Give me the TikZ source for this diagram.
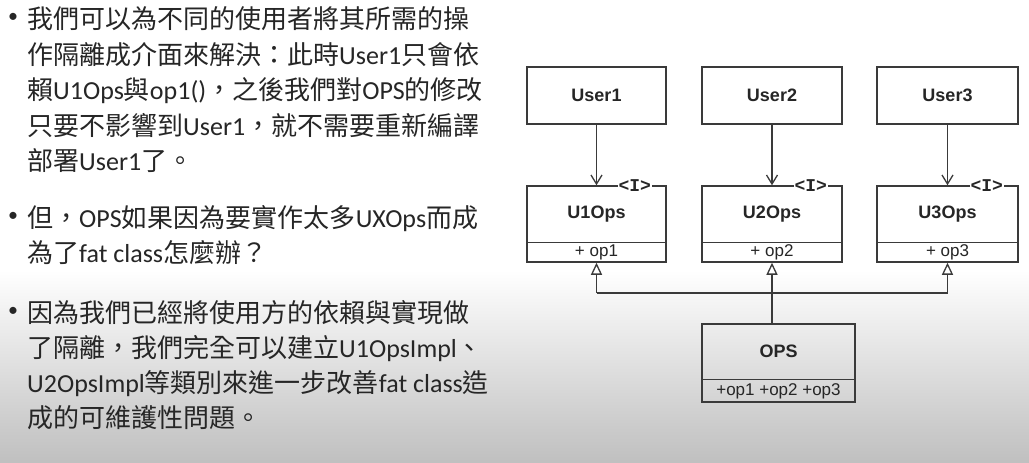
\documentclass[tikz,border=0pt]{standalone}
\usepackage{fontspec}
\setmainfont{Noto Sans CJK TC}
\newfontfamily\lat{Carlito}
\newfontfamily\umlf{Liberation Sans}
\newfontfamily\umlmono{Liberation Mono}
\usetikzlibrary{arrows.meta,calc}
\definecolor{txtc}{HTML}{262626}
\definecolor{boxc}{HTML}{3A3A3A}
\begin{document}
\begin{tikzpicture}[x=1pt,y=-1pt,
  txt/.style={anchor=base west, inner sep=0pt, text=txtc, font=\fontsize{26}{30}\selectfont},
  bul/.style={anchor=center, inner sep=0pt, text=txtc, font=\lat\fontsize{20}{24}\selectfont},
  cls/.style={draw=boxc, line width=1.5pt, minimum height=#1, inner sep=0pt},
  cname/.style={font=\umlf\bfseries\fontsize{18}{20}\selectfont, text=txtc, inner sep=0pt},
  cops/.style={font=\umlf\fontsize{17}{19}\selectfont, text=txtc, inner sep=0pt},
  stereo/.style={font=\umlmono\bfseries\fontsize{18}{20}\selectfont, text=txtc, fill=white, inner sep=1pt},
  dep/.style={draw=boxc, line width=1.3pt, -{Straight Barb[length=9pt,width=11pt,line width=1.3pt]}},
  inh/.style={draw=boxc, line width=1.3pt, -{Triangle[open,length=12pt,width=11pt,line width=1.3pt]}},
  ln/.style={draw=boxc, line width=1.3pt}]
\useasboundingbox (0,0) rectangle (1029,463);
\fill[white] (0,0) rectangle (1029,271);
\shade[top color=white, bottom color=black!25] (0,270) rectangle (1029,463);

% left text
\node[bul] (b1) at (13,18) {•};
\node[txt] (t1) at (27,28) {我們可以為不同的使用者將其所需的操};
\node[txt] (t2) at (27,64) {作隔離成介面來解決：此時{\lat User1}只會依};
\node[txt] (t3) at (27,99) {賴{\lat U1Ops}與{\lat op1()}，之後我們對{\lat OPS}的修改};
\node[txt] (t4) at (27,135) {只要不影響到{\lat User1}，就不需要重新編譯};
\node[txt] (t5) at (27,170) {部署{\lat User1}了。};
\node[bul] (b2) at (13,217) {•};
\node[txt] (t6) at (27,227) {但，{\lat OPS}如果因為要實作太多{\lat UXOps}而成};
\node[txt] (t7) at (27,262) {為了{\lat fat class}怎麼辦？};
\node[bul] (b3) at (13,312) {•};
\node[txt] (t8) at (27,322) {因為我們已經將使用方的依賴與實現做};
\node[txt] (t9) at (27,357) {了隔離，我們完全可以建立{\lat U1OpsImpl}、};
\node[txt] (t10) at (27,392) {{\lat U2OpsImpl}等類別來進一步改善{\lat fat class}造};
\node[txt] (t11) at (27,427) {成的可維護性問題。};

% users
\node[cls=57pt, minimum width=139pt] (u1) at (596.5,95.5) {};
\node[cls=57pt, minimum width=140pt] (u2) at (772,95.5) {};
\node[cls=57pt, minimum width=141pt] (u3) at (947.5,95.5) {};
\node[cname] (u1n) at (u1.center) {User1};
\node[cname] (u2n) at (u2.center) {User2};
\node[cname] (u3n) at (u3.center) {User3};

% interfaces
\node[cls=76pt, minimum width=139pt] (i1) at (596.5,224) {};
\node[cls=76pt, minimum width=140pt] (i2) at (772,224) {};
\node[cls=76pt, minimum width=141pt] (i3) at (947.5,224) {};
\foreach \i/\n in {1/1,2/2,3/3}{
  \draw[ln] ($(i\i.south west)+(0,-20)$) -- ($(i\i.south east)+(0,-20)$);
  \node[cname] (i\i n) at ($(i\i.center)+(0,-10)$) {U\n Ops};
  \node[cops] (i\i o) at ($(i\i.south)+(0,-10)$) {+ op\n};
  \node[stereo] (i\i s) at ($(i\i.north east)+(-32,0)$) {<I>};
}

% OPS
\node[cls=78pt, minimum width=153pt] (ops) at (778.5,363) {};
\draw[ln] ($(ops.south west)+(0,-23)$) -- ($(ops.south east)+(0,-23)$);
\node[cname] (opsn) at ($(ops.center)+(0,-12)$) {OPS};
\node[cops] (opso) at ($(ops.south)+(0,-11.5)$) {+op1 +op2 +op3};

% dependencies
\draw[dep] (u1.south) -- (i1.north);
\draw[dep] (u2.south) -- (i2.north);
\draw[dep] (u3.south) -- (i3.north);

% realization
\coordinate (j1) at (i1.south |- 0,293);
\coordinate (j3) at (i3.south |- 0,293);
\coordinate (j2) at (i2.south |- ops.north);
\draw[ln] (j1) -- (j3);
\draw[inh] (j1) -- (i1.south);
\draw[inh] (j3) -- (i3.south);
\draw[inh] (j2) -- (i2.south);
\end{tikzpicture}
\end{document}
